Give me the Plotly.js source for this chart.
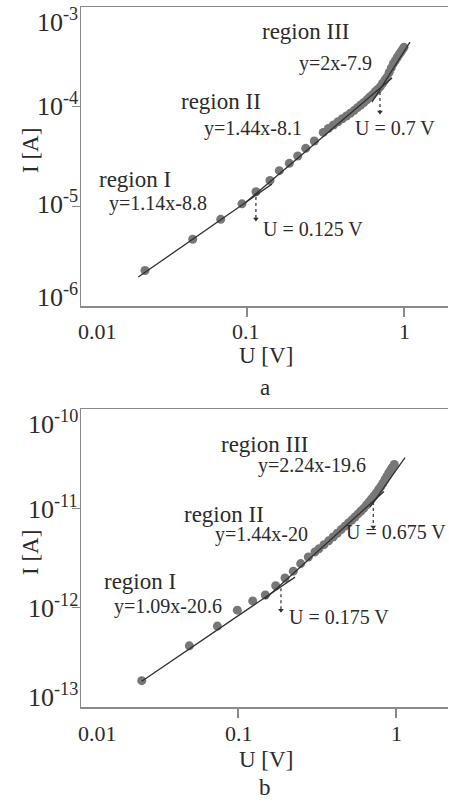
<!DOCTYPE html>
<html><head><meta charset="utf-8">
<script src="https://cdn.plot.ly/plotly-3.0.1.min.js"></script>
<style>html,body{margin:0;padding:0;background:#fff}#chart{width:449px;height:802px}</style>
</head><body><div id="chart"></div>
<script>
// ---- panel a data ----
const aU = [0.0224,0.0451,0.068,0.0929,0.1141,0.1401,0.1606,0.1859,0.2104,0.2365,0.2684,0.306,
  0.33,0.355,0.38,0.405,0.43,0.455,0.48,0.505,0.53,0.555,0.58,0.605,0.63,0.655,0.68,0.705,0.73,0.755,0.78,0.805,0.83,0.855,0.88,0.905,0.93,0.955,0.98,1.0];
const aI = [2.27e-6,4.67e-6,7.41e-6,1.06e-5,1.40e-5,1.82e-5,2.28e-5,2.70e-5,3.20e-5,3.82e-5,4.52e-5,5.52e-5,
  6.04e-5,6.53e-5,7.05e-5,7.57e-5,8.07e-5,8.59e-5,9.14e-5,9.77e-5,1.04e-4,1.10e-4,1.17e-4,1.25e-4,1.32e-4,1.41e-4,1.49e-4,1.58e-4,1.71e-4,1.85e-4,1.98e-4,2.21e-4,2.45e-4,2.70e-4,2.90e-4,3.11e-4,3.33e-4,3.54e-4,3.76e-4,3.94e-4];
const aFit1U = [0.0203, 0.144],  aFit1I = [1.95e-6, 1.67e-5];
const aFit2U = [0.0971, 0.839],  aFit2I = [1.08e-5, 1.94e-4];
const aFit3U = [0.625, 1.092],   aFit3I = [1.11e-4, 4.45e-4];
const aArrowU = [0.114, 0.703];
const aArrowFrom = [1.24e-5, 1.40e-4];
const aArrowTo = [7.46e-6, 8.83e-5];
const aLabels = ["region I","y=1.14x-8.8","region II","y=1.44x-8.1","region III","y=2x-7.9","U = 0.125 V","U = 0.7 V"];
const aYTicks = ["10<sup>-3</sup>","10<sup>-4</sup>","10<sup>-5</sup>","10<sup>-6</sup>"];

// ---- panel b data ----
const bU = [0.0246,0.0492,0.074,0.099,0.1239,0.1489,0.1732,0.1983,0.2239,0.2493,0.2786,0.307,
  0.325,0.35,0.375,0.4,0.425,0.45,0.475,0.5,0.525,0.55,0.575,0.6,0.625,0.65,0.675,0.7,0.725,0.75,0.775,0.8,0.825,0.85,0.875,0.9,0.925,0.95,0.975];
const bI = [1.84e-13,4.13e-13,6.52e-13,9.44e-13,1.17e-12,1.34e-12,1.66e-12,1.99e-12,2.33e-12,2.78e-12,3.24e-12,3.64e-12,
  3.91e-12,4.31e-12,4.71e-12,5.14e-12,5.61e-12,6.11e-12,6.62e-12,7.11e-12,7.62e-12,8.18e-12,8.79e-12,9.40e-12,1.00e-11,1.08e-11,1.16e-11,1.24e-11,1.33e-11,1.43e-11,1.54e-11,1.65e-11,1.78e-11,1.94e-11,2.10e-11,2.27e-11,2.43e-11,2.60e-11,2.77e-11];
const bFit1U = [0.0246, 0.2296], bFit1I = [1.82e-13, 2.03e-12];
const bFit2U = [0.1482, 0.8397], bFit2I = [1.22e-12, 1.48e-11];
const bFit3U = [0.6844, 1.14],   bFit3I = [1.03e-11, 3.24e-11];
const bArrowU = [0.187, 0.718];
const bArrowFrom = [1.57e-12, 1.16e-11];
const bArrowTo = [9.44e-13, 6.49e-12];
const bLabels = ["region I","y=1.09x-20.6","region II","y=1.44x-20","region III","y=2.24x-19.6","U = 0.175 V","U = 0.675 V"];
const bYTicks = ["10<sup>-10</sup>","10<sup>-11</sup>","10<sup>-12</sup>","10<sup>-13</sup>"];

const xTickText = ["0.01","0.1","1"];
const xTitle = "U [V]", yTitle = "I [A]";
const panelNames = ["a","b"];

// ---- layout helpers ----
const W = 449, H = 802;
const px = x => x / W, py = y => 1 - y / H;
const FONT = "Liberation Serif, Times New Roman, serif";
const TXT = "#2b2b2b", AX = "#8a8a8a", DOT = "#777777", LN = "#303030";

const traces = [];
function panel(xa, ya, U, I, fits, arrowU, aFrom, aTo) {
  traces.push({x: U, y: I, xaxis: xa, yaxis: ya, mode: "markers", type: "scatter",
    marker: {color: DOT, size: 9, line: {width: 0}}, hoverinfo: "skip"});
  fits.forEach(f => traces.push({x: f[0], y: f[1], xaxis: xa, yaxis: ya, mode: "lines", type: "scatter",
    line: {color: LN, width: 1.3}, hoverinfo: "skip"}));
  arrowU.forEach((u, i) => {
    traces.push({x: [u, u], y: [aFrom[i], aTo[i]], xaxis: xa, yaxis: ya, mode: "lines", type: "scatter",
      line: {color: LN, width: 1.2, dash: "dot"}, hoverinfo: "skip"});
    traces.push({x: [u], y: [aTo[i]], xaxis: xa, yaxis: ya, mode: "markers", type: "scatter",
      marker: {symbol: "triangle-down", size: 5, color: LN}, hoverinfo: "skip"});
  });
}
panel("x", "y", aU, aI, [[aFit1U, aFit1I], [aFit2U, aFit2I], [aFit3U, aFit3I]], aArrowU, aArrowFrom, aArrowTo);
panel("x2", "y2", bU, bI, [[bFit1U, bFit1I], [bFit2U, bFit2I], [bFit3U, bFit3I]], bArrowU, bArrowFrom, bArrowTo);

function xax(range, dom) {
  return {type: "log", range: range, domain: dom, showline: true, linecolor: AX, linewidth: 1.5, mirror: true,
    showgrid: false, zeroline: false, ticks: "outside", ticklen: 9, tickwidth: 1.3, tickcolor: AX,
    tickvals: [0.1, 1], showticklabels: false, fixedrange: true};
}
function yax(range, dom, tv, anchor) {
  return {type: "log", range: range, domain: dom, showline: true, linecolor: AX, linewidth: 1.5,
    showgrid: false, zeroline: false, ticks: "outside", ticklen: 8, tickwidth: 1.3, tickcolor: AX,
    tickvals: tv, showticklabels: false, anchor: anchor, fixedrange: true};
}

const ann = [];
function T(text, x, y, size, xanchor, extra) {
  ann.push(Object.assign({text: text, xref: "paper", yref: "paper", x: px(x), y: py(y),
    xanchor: xanchor || "center", yanchor: "middle", showarrow: false, borderpad: 0,
    font: {family: FONT, size: size, color: TXT}}, extra || {}));
}
// panel a texts
T(aLabels[0], 134.5, 179, 23); T(aLabels[1], 157.5, 204, 20);
T(aLabels[2], 221, 102, 23);   T(aLabels[3], 253.5, 128, 20);
T(aLabels[4], 306, 32, 23);    T(aLabels[5], 335.5, 63, 20);
T(aLabels[6], 312.5, 229, 20); T(aLabels[7], 394.5, 128, 20);
T(aYTicks[0], 79, 20, 26, "right"); T(aYTicks[1], 79, 104, 26, "right");
T(aYTicks[2], 79, 203, 26, "right"); T(aYTicks[3], 79, 295, 26, "right");
T(xTickText[0], 97.5, 331, 22); T(xTickText[1], 246, 331, 22); T(xTickText[2], 404, 331, 22);
T(xTitle, 266, 355, 23); T(yTitle, 30, 151, 23, "center", {textangle: -90});
T(panelNames[0], 265, 387, 23);
// panel b texts
T(bLabels[0], 139.5, 581, 23); T(bLabels[1], 167.5, 606, 20);
T(bLabels[2], 224, 514, 23);   T(bLabels[3], 261.5, 534, 20);
T(bLabels[4], 265, 444, 23);   T(bLabels[5], 312, 465, 20);
T(bLabels[6], 339, 617, 20);   T(bLabels[7], 396, 532, 20);
T(bYTicks[0], 79, 423, 26, "right"); T(bYTicks[1], 79, 507, 26, "right");
T(bYTicks[2], 79, 606, 26, "right"); T(bYTicks[3], 79, 695, 26, "right");
T(xTickText[0], 97, 733, 22); T(xTickText[1], 239.5, 733, 22); T(xTickText[2], 396, 733, 22);
T(xTitle, 266, 759, 23); T(yTitle, 30, 553, 23, "center", {textangle: -90});
T(panelNames[1], 265, 787, 23);

const layout = {
  width: W, height: H, margin: {l: 0, r: 0, t: 0, b: 0}, showlegend: false,
  paper_bgcolor: "#fff", plot_bgcolor: "#fff", font: {family: FONT, color: TXT},
  xaxis: Object.assign(xax([-2.0573, 0.2803], [px(81), px(448)]), {anchor: "y"}),
  yaxis: yax([-6, -3], [py(306), py(7)], [1e-5, 1e-4], "x"),
  xaxis2: Object.assign(xax([-1.9937, 0.3291], [px(81), px(448)]), {anchor: "y2"}),
  yaxis2: yax([-13, -10], [py(707), py(409)], [1e-12, 1e-11], "x2"),
  annotations: ann
};
Plotly.newPlot("chart", traces, layout, {staticPlot: true, displayModeBar: false});
</script></body></html>
